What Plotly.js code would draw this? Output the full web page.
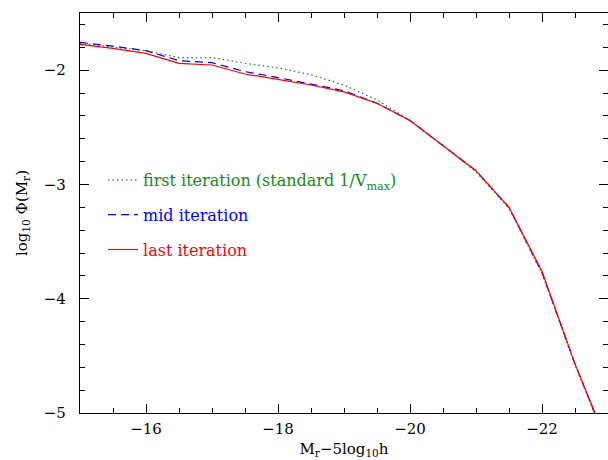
<!DOCTYPE html>
<html>
<head>
<meta charset="utf-8">
<script src="https://cdn.plot.ly/plotly-3.0.1.min.js"></script>
<style>html,body{margin:0;padding:0;background:#fff;}#chart{width:608px;height:460px;}</style>
</head>
<body>
<div id="chart"></div>
<script>
const magnitudes = [-15, -15.5, -16, -16.5, -17, -17.5, -18, -18.5, -19, -19.5, -20, -20.5, -21, -21.5, -22, -22.5, -23];
const firstIteration = [-1.765, -1.80, -1.83, -1.89, -1.89, -1.94, -1.98, -2.04, -2.13, -2.26, -2.44, -2.66, -2.89, -3.21, -3.78, -4.58, -5.30];
const midIteration   = [-1.757, -1.79, -1.83, -1.917, -1.935, -2.013, -2.065, -2.12, -2.18, -2.29, -2.44, -2.66, -2.88, -3.20, -3.77, -4.57, -5.29];
const lastIteration  = [-1.775, -1.81, -1.853, -1.94, -1.955, -2.034, -2.08, -2.13, -2.19, -2.29, -2.44, -2.66, -2.88, -3.20, -3.76, -4.57, -5.28];
const seriesNames = ['first iteration (standard 1/V<sub>max</sub>)', 'mid iteration', 'last iteration'];
const xTickVals = [-16, -18, -20, -22];
const yTickVals = [-2, -3, -4, -5];

const GREEN = '#138a13', BLUE = '#0000ff', RED = '#ff0000';
const FONT = 'DejaVu Serif, Liberation Serif, serif';

const traces = [
  {x: magnitudes, y: firstIteration, name: '<span style="color:' + GREEN + '">' + seriesNames[0] + '</span>',
   mode: 'lines', line: {color: GREEN, width: 1.2, dash: '1.5px,3px'}, legendgroup: 'a'},
  {x: magnitudes, y: midIteration, name: '<span style="color:' + BLUE + '">' + seriesNames[1] + '</span>',
   mode: 'lines', line: {color: BLUE, width: 1.2, dash: '8px,5px'}, legendgroup: 'b'},
  {x: magnitudes, y: lastIteration, name: '<span style="color:' + RED + '">' + seriesNames[2] + '</span>',
   mode: 'lines', line: {color: RED, width: 1.2}, legendgroup: 'c'}
];

const axisCommon = {
  showline: true, linecolor: '#000', linewidth: 1.2, mirror: 'ticks',
  ticks: 'inside', ticklen: 9, tickwidth: 1, tickcolor: '#000',
  showgrid: false, zeroline: false,
  tickfont: {family: FONT, size: 15, color: '#000'}
};

const layout = {
  width: 608, height: 460,
  margin: {l: 80, r: 0, t: 13, b: 47, pad: 0},
  paper_bgcolor: '#fff', plot_bgcolor: '#fff',
  font: {family: FONT, size: 14, color: '#000'},
  xaxis: Object.assign({}, axisCommon, {
    range: [-15, -23], tickvals: xTickVals, ticktext: xTickVals.map(v => '\u2212' + Math.abs(v)),
    ticklabelstandoff: 2,
    minor: {dtick: 0.5, ticks: 'inside', ticklen: 5, tickcolor: '#000', showgrid: false},
    title: {text: 'M<sub>r</sub>\u22125log<sub>10</sub>h', font: {family: FONT, size: 15}, standoff: 6}
  }),
  yaxis: Object.assign({}, axisCommon, {
    range: [-5, -1.5], tickvals: yTickVals, ticktext: yTickVals.map(v => '\u2212' + Math.abs(v)),
    ticklabelstandoff: 10,
    minor: {dtick: 0.2, tick0: 0, ticks: 'inside', ticklen: 5, tickcolor: '#000', showgrid: false},
    title: {text: 'log<sub>10</sub> \u03A6(M<sub>r</sub>)', font: {family: FONT, size: 15}, standoff: 12}
  }),
  showlegend: true,
  legend: {
    x: 0.0436, y: 0.625, xanchor: 'left', yanchor: 'top',
    bgcolor: 'rgba(0,0,0,0)', borderwidth: 0,
    font: {family: FONT, size: 16},
    tracegroupgap: 11, itemwidth: 30
  }
};

Plotly.newPlot('chart', traces, layout, {displayModeBar: false, staticPlot: true});
</script>
</body>
</html>
